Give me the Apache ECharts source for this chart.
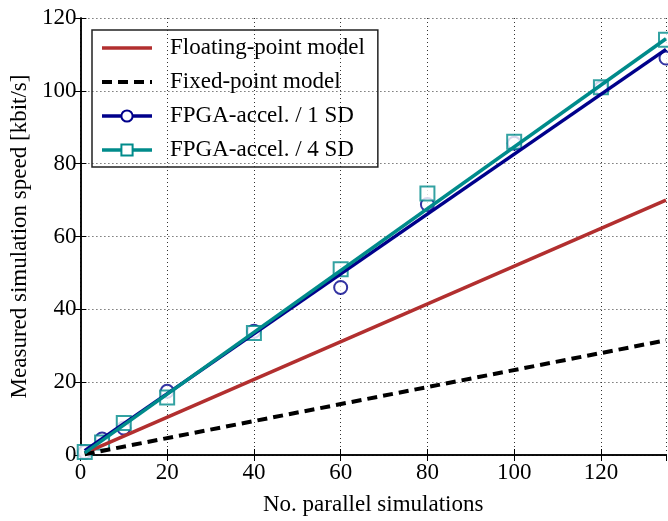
<!DOCTYPE html>
<html>
<head>
<meta charset="utf-8">
<script src="https://cdn.jsdelivr.net/npm/echarts@6/dist/echarts.min.js"></script>
<style>
  html, body { margin: 0; padding: 0; background: #fff; }
  #chart { width: 668px; height: 521px; }
</style>
</head>
<body>
<div id="chart"></div>
<script>
// model lines (straight fits, end points)
const floatLine = [[1, 0.5], [135, 70]];
const fixedLine = [[1, 0.2], [135, 31.5]];
const sd1Line = [[1, 1.2], [135, 111.4]];
const sd4Line = [[1, 0.6], [135, 114.3]];

// measured points
const sd1Points = [[1, 0.8], [5, 4.4], [10, 7.4], [20, 17.5], [40, 34], [60, 46], [80, 68.8], [100, 85.6], [120, 100.8], [135, 109]];
const sd4Points = [[1, 0.8], [5, 3.4], [10, 8.8], [20, 15.8], [40, 33.5], [60, 51], [80, 71.8], [100, 86], [120, 101], [135, 114]];

const RED = '#b22f2f', BLUE = '#00008b', TEAL = '#008b8b';
const FONT = 'Liberation Serif';

const chart = echarts.init(document.getElementById('chart'));

const tickStyle = { inside: true, length: 6, lineStyle: { color: '#000', width: 1 } };
const splitStyle = { show: true, lineStyle: { color: '#333', type: [1, 3], width: 1 } };

chart.setOption({
  animation: false,
  textStyle: { fontFamily: FONT },
  grid: { left: 80, right: 2, top: 18, bottom: 51 },
  legend: {
    left: 92, top: 30,
    orient: 'vertical',
    padding: [6, 13, 5, 8],
    itemWidth: 50, itemHeight: 14, itemGap: 10,
    borderColor: '#222', borderWidth: 1.5,
    lineStyle: { width: 3.5 },
    textStyle: { fontFamily: FONT, fontSize: 23, color: '#000', lineHeight: 24, padding: [0, 0, 0, 13] },
    data: [
      { name: 'Floating-point model', itemStyle: { opacity: 0 } },
      { name: 'Fixed-point model', itemStyle: { opacity: 0 }, lineStyle: { width: 4 } },
      'FPGA-accel. / 1 SD',
      'FPGA-accel. / 4 SD'
    ]
  },
  xAxis: [{
    type: 'value', min: 0, max: 135, interval: 20,
    name: 'No. parallel simulations', nameLocation: 'middle', nameGap: 38,
    nameTextStyle: { fontFamily: FONT, fontSize: 23, color: '#000' },
    axisLine: { lineStyle: { color: '#000', width: 1.5 } },
    axisTick: tickStyle,
    axisLabel: { fontFamily: FONT, fontSize: 23, color: '#000', margin: 6, showMaxLabel: false },
    splitLine: splitStyle
  }, {
    type: 'value', min: 0, max: 135, interval: 20, position: 'top',
    axisLine: { lineStyle: { color: '#000', width: 1.5 } },
    axisTick: tickStyle, axisLabel: { show: false }, splitLine: { show: false }
  }],
  yAxis: [{
    type: 'value', min: 0, max: 120, interval: 20,
    name: 'Measured simulation speed [kbit/s]', nameLocation: 'middle', nameGap: 49,
    nameTextStyle: { fontFamily: FONT, fontSize: 23, color: '#000' },
    axisLine: { show: true, lineStyle: { color: '#000', width: 1.5 } },
    axisTick: tickStyle,
    axisLabel: { fontFamily: FONT, fontSize: 23, color: '#000', margin: 4 },
    splitLine: splitStyle
  }, {
    type: 'value', min: 0, max: 120, interval: 20, position: 'right',
    axisLine: { show: true, lineStyle: { color: '#000', width: 1.5 } },
    axisTick: tickStyle, axisLabel: { show: false }, splitLine: { show: false }
  }],
  series: [
    { name: 'Floating-point model', type: 'line', data: floatLine, symbol: 'none',
      lineStyle: { color: RED, width: 3.5 }, itemStyle: { color: RED } },
    { name: 'Fixed-point model', type: 'line', data: fixedLine, symbol: 'none',
      lineStyle: { color: '#000', width: 4, type: [10, 6] }, itemStyle: { color: '#000' } },
    { name: 'FPGA-accel. / 1 SD', type: 'line', data: sd1Line, symbol: 'emptyCircle', symbolSize: 12, showSymbol: false,
      lineStyle: { color: BLUE, width: 3.5 }, itemStyle: { color: BLUE, borderWidth: 2.5 } },
    { name: 'FPGA-accel. / 4 SD', type: 'line', data: sd4Line, symbol: 'emptyRect', symbolSize: 13, showSymbol: false,
      lineStyle: { color: TEAL, width: 3.5 }, itemStyle: { color: TEAL, borderWidth: 2.5 } },
    { name: 'FPGA-accel. / 1 SD', type: 'scatter', data: sd1Points, symbol: 'emptyCircle', symbolSize: 13,
      itemStyle: { color: BLUE, borderColor: BLUE, borderWidth: 2.5 } },
    { name: 'FPGA-accel. / 4 SD', type: 'scatter', data: sd4Points, symbol: 'emptyRect', symbolSize: 14,
      itemStyle: { color: TEAL, borderColor: TEAL, borderWidth: 2.5 } }
  ]
});
</script>
</body>
</html>
